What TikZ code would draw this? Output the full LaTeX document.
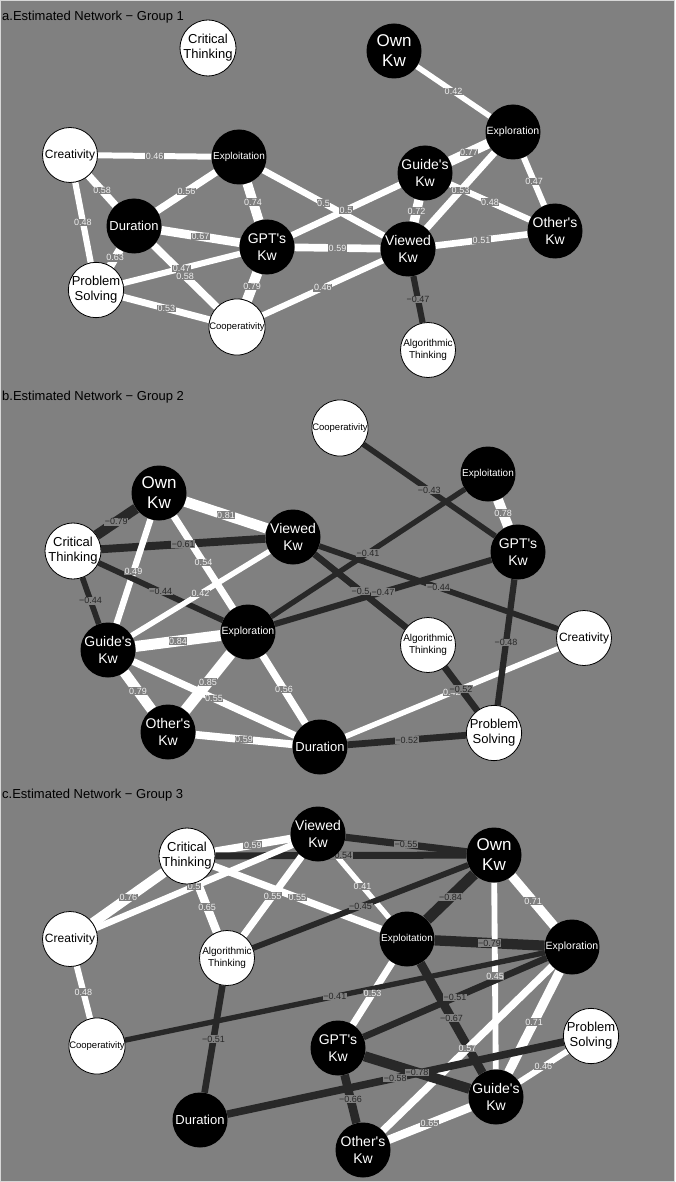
\documentclass[tikz,border=0pt]{standalone}
\usepackage{fontspec}
\setmainfont{Liberation Sans}
\pgfdeclarelayer{bglayer}
\pgfdeclarelayer{edges}
\pgfdeclarelayer{labels}
\pgfsetlayers{bglayer,edges,labels,main}
\definecolor{bg}{RGB}{128,128,128}
\definecolor{neg}{RGB}{40,40,40}
\definecolor{poslab}{RGB}{238,238,238}
\definecolor{frame}{RGB}{215,215,215}
\tikzset{
  wnode/.style={circle, draw=black, line width=0.8pt, fill=white, minimum size=55pt, inner sep=0pt, align=center, text=black},
  bnode/.style={circle, fill=black, minimum size=55pt, inner sep=0pt, align=center, text=white},
  elab/.style={fill=bg, inner sep=0.6pt, font=\fontsize{9}{9}\selectfont},
  paneltitle/.style={anchor=west, inner sep=0pt, text=black, font=\fontsize{13}{13}\selectfont},
  fOwn/.style={font=\fontsize{17}{20}\selectfont},
  fKw/.style={font=\fontsize{14}{17}\selectfont},
  fExpl/.style={font=\fontsize{10.5}{12}\selectfont},
  fExpt/.style={font=\fontsize{10}{12}\selectfont},
  fDur/.style={font=\fontsize{13}{15}\selectfont},
  fCre/.style={font=\fontsize{12}{14}\selectfont},
  fTwo/.style={font=\fontsize{13}{15}\selectfont},
  fCoop/.style={font=\fontsize{9.5}{11}\selectfont},
  fAlg/.style={font=\fontsize{10}{11.5}\selectfont},
}
\newcommand\pedge[4]{%
  \begin{pgfonlayer}{edges}\draw[white, line width=#3*13pt] (#1) -- (#2);\end{pgfonlayer}%
  \begin{pgfonlayer}{labels}\path (#1) -- node[elab, text=poslab]{#4} (#2);\end{pgfonlayer}}
\newcommand\nedge[4]{%
  \begin{pgfonlayer}{edges}\draw[neg, line width=#3*13pt] (#1) -- (#2);\end{pgfonlayer}%
  \begin{pgfonlayer}{labels}\path (#1) -- node[elab, text=neg]{#4} (#2);\end{pgfonlayer}}
\newcommand\q{\textquotesingle}
\begin{document}
\begin{tikzpicture}[x=1pt,y=-1pt]
\useasboundingbox (0,0) rectangle (675,1182);
\begin{pgfonlayer}{bglayer}
\fill[bg] (0,0) rectangle (675,1182);
\draw[frame, line width=1pt] (0.5,0.5) rectangle (674.5,1181.5);
\end{pgfonlayer}

% ---------------- Panel a ----------------
\node[paneltitle] (ta) at (2,17) {a.Estimated Network − Group 1};
\node[wnode, fTwo] (aCT) at (208,48) {Critical\\Thinking};
\node[wnode, fCre] (aCre) at (70,155) {Creativity};
\node[bnode, fExpt] (aExpt) at (239,157) {Exploitation};
\node[bnode, fOwn] (aOwn) at (394,51) {Own\\Kw};
\node[bnode, fExpl] (aExpl) at (513,132) {Exploration};
\node[bnode, fKw] (aGui) at (425,173) {Guide\q s\\Kw};
\node[bnode, fDur] (aDur) at (134,226) {Duration};
\node[bnode, fKw] (aGPT) at (267,247) {GPT\q s\\Kw};
\node[wnode, fTwo] (aPS) at (96,290) {Problem\\Solving};
\node[wnode, fCoop] (aCoop) at (237,327) {Cooperativity};
\node[bnode, fKw] (aVie) at (408,249) {Viewed\\Kw};
\node[bnode, fKw] (aOth) at (555,231) {Other\q s\\Kw};
\node[wnode, fAlg] (aAlg) at (428,350) {Algorithmic\\Thinking};

\pedge{aOwn}{aExpl}{0.42}{0.42}
\pedge{aExpl}{aGui}{0.77}{0.77}
\pedge{aExpl}{aVie}{0.53}{0.53}
\pedge{aExpl}{aOth}{0.47}{0.47}
\pedge{aGui}{aOth}{0.48}{0.48}
\pedge{aGui}{aVie}{0.72}{0.72}
\pedge{aVie}{aOth}{0.51}{0.51}
\nedge{aVie}{aAlg}{0.47}{−0.47}
\pedge{aExpt}{aVie}{0.5}{0.5}
\pedge{aGPT}{aGui}{0.5}{0.5}
\pedge{aGPT}{aVie}{0.59}{0.59}
\pedge{aCre}{aExpt}{0.46}{0.46}
\pedge{aCre}{aDur}{0.58}{0.58}
\pedge{aCre}{aPS}{0.48}{0.48}
\pedge{aExpt}{aDur}{0.56}{0.56}
\pedge{aExpt}{aGPT}{0.74}{0.74}
\pedge{aDur}{aGPT}{0.67}{0.67}
\pedge{aDur}{aPS}{0.63}{0.63}
\pedge{aDur}{aCoop}{0.58}{0.58}
\pedge{aGPT}{aPS}{0.47}{0.47}
\pedge{aGPT}{aCoop}{0.79}{0.79}
\pedge{aPS}{aCoop}{0.53}{0.53}
\pedge{aCoop}{aVie}{0.46}{0.46}

% ---------------- Panel b ----------------
\node[paneltitle] (tb) at (2,397) {b.Estimated Network − Group 2};
\node[wnode, fCoop] (bCoop) at (340,428) {Cooperativity};
\node[bnode, fOwn] (bOwn) at (159,493) {Own\\Kw};
\node[bnode, fKw] (bVie) at (293,537) {Viewed\\Kw};
\node[wnode, fTwo] (bCT) at (73,551) {Critical\\Thinking};
\node[bnode, fExpt] (bExpt) at (488,474) {Exploitation};
\node[bnode, fKw] (bGPT) at (518,552) {GPT\q s\\Kw};
\node[bnode, fKw] (bGui) at (108,650) {Guide\q s\\Kw};
\node[bnode, fExpl] (bExpl) at (248,632) {Exploration};
\node[bnode, fKw] (bOth) at (168,732) {Other\q s\\Kw};
\node[bnode, fDur] (bDur) at (320,747) {Duration};
\node[wnode, fAlg] (bAlg) at (428,645) {Algorithmic\\Thinking};
\node[wnode, fCre] (bCre) at (584,638) {Creativity};
\node[wnode, fTwo] (bPS) at (494,733) {Problem\\Solving};

\nedge{bCoop}{bGPT}{0.43}{−0.43}
\pedge{bExpt}{bGPT}{0.78}{0.78}
\nedge{bOwn}{bCT}{0.79}{−0.79}
\pedge{bOwn}{bVie}{0.81}{0.81}
\nedge{bCT}{bVie}{0.61}{−0.61}
\pedge{bOwn}{bGui}{0.49}{0.49}
\pedge{bOwn}{bExpl}{0.54}{0.54}
\nedge{bCT}{bGui}{0.44}{−0.44}
\nedge{bCT}{bExpl}{0.44}{−0.44}
\nedge{bVie}{bCre}{0.44}{−0.44}
\pedge{bVie}{bGui}{0.42}{0.42}
\pedge{bGui}{bExpl}{0.84}{0.84}
\pedge{bGui}{bOth}{0.79}{0.79}
\pedge{bExpl}{bOth}{0.85}{0.85}
\pedge{bGui}{bDur}{0.55}{0.55}
\pedge{bExpl}{bDur}{0.56}{0.56}
\pedge{bOth}{bDur}{0.59}{0.59}
\nedge{bDur}{bPS}{0.52}{−0.52}
\pedge{bDur}{bCre}{0.42}{0.42}
\nedge{bAlg}{bPS}{0.52}{−0.52}
\nedge{bGPT}{bPS}{0.48}{−0.48}
\nedge{bVie}{bAlg}{0.5}{−0.5}
\nedge{bExpl}{bGPT}{0.47}{−0.47}
\nedge{bExpl}{bExpt}{0.41}{−0.41}

% ---------------- Panel c ----------------
\node[paneltitle] (tc) at (2,795) {c.Estimated Network − Group 3};
\node[bnode, fKw] (cVie) at (318,834) {Viewed\\Kw};
\node[wnode, fTwo] (cCT) at (187,856) {Critical\\Thinking};
\node[wnode, fCre] (cCre) at (70,939) {Creativity};
\node[wnode, fAlg] (cAlg) at (227,958) {Algorithmic\\Thinking};
\node[bnode, fOwn] (cOwn) at (494,855) {Own\\Kw};
\node[bnode, fExpt] (cExpt) at (407,939) {Exploitation};
\node[bnode, fExpl] (cExpl) at (572,947) {Exploration};
\node[wnode, fCoop] (cCoop) at (97,1046) {Cooperativity};
\node[bnode, fDur] (cDur) at (200,1120) {Duration};
\node[bnode, fKw] (cGPT) at (338,1048) {GPT\q s\\Kw};
\node[wnode, fTwo] (cPS) at (591,1036) {Problem\\Solving};
\node[bnode, fKw] (cGui) at (496,1097) {Guide\q s\\Kw};
\node[bnode, fKw] (cOth) at (363,1150) {Other\q s\\Kw};

\pedge{cCT}{cVie}{0.59}{0.59}
\nedge{cCT}{cOwn}{0.54}{−0.54}
\nedge{cVie}{cOwn}{0.55}{−0.55}
\pedge{cCT}{cCre}{0.76}{0.76}
\pedge{cCre}{cVie}{0.5}{0.5}
\pedge{cCT}{cAlg}{0.65}{0.65}
\pedge{cCT}{cExpt}{0.55}{0.55}
\pedge{cVie}{cAlg}{0.55}{0.55}
\pedge{cVie}{cExpt}{0.41}{0.41}
\nedge{cAlg}{cOwn}{0.45}{−0.45}
\nedge{cOwn}{cExpt}{0.84}{−0.84}
\pedge{cOwn}{cExpl}{0.71}{0.71}
\nedge{cExpt}{cExpl}{0.79}{−0.79}
\pedge{cOwn}{cGui}{0.45}{0.45}
\pedge{cExpt}{cGPT}{0.53}{0.53}
\nedge{cExpt}{cGui}{0.67}{−0.67}
\nedge{cExpl}{cGPT}{0.51}{−0.51}
\nedge{cExpl}{cCoop}{0.41}{−0.41}
\pedge{cExpl}{cOth}{0.57}{0.57}
\pedge{cExpl}{cGui}{0.71}{0.71}
\pedge{cGui}{cPS}{0.46}{0.46}
\pedge{cGui}{cOth}{0.65}{0.65}
\nedge{cGPT}{cGui}{0.78}{−0.78}
\nedge{cDur}{cPS}{0.58}{−0.58}
\nedge{cGPT}{cOth}{0.66}{−0.66}
\nedge{cAlg}{cDur}{0.51}{−0.51}
\pedge{cCre}{cCoop}{0.48}{0.48}
\end{tikzpicture}
\end{document}
